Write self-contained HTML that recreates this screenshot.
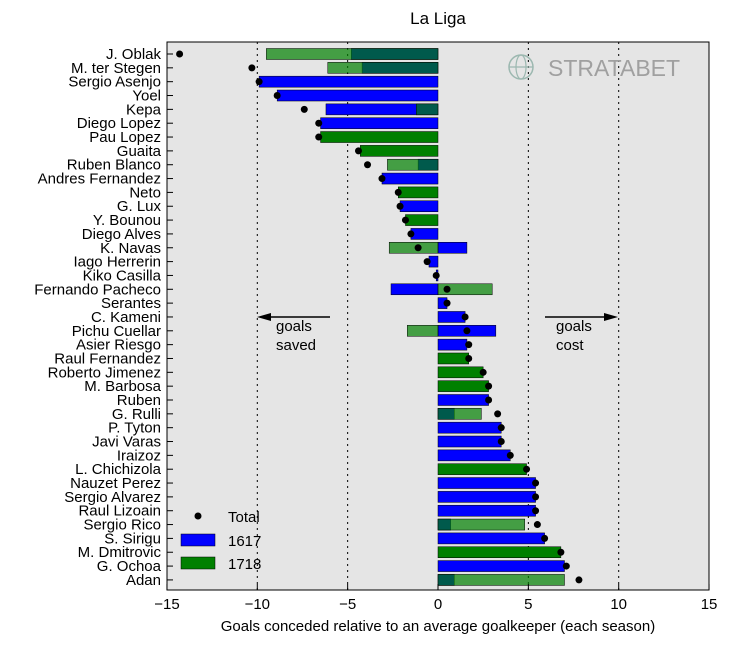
<!DOCTYPE html>
<html><head><meta charset="utf-8"><style>
body{margin:0;background:#fff;font-family:"Liberation Sans","DejaVu Sans",sans-serif}
svg text{font-family:"Liberation Sans","DejaVu Sans",sans-serif}
</style></head><body>
<svg id="c" width="730" height="645" viewBox="0 0 730 645">
<text x="438" y="24" text-anchor="middle" font-size="17">La Liga</text>
<rect x="167" y="42" width="542" height="548" fill="#e5e5e5"/>
<g id="grid"></g><g id="bars"></g><g id="dots"></g><g id="labels"></g><g id="ticks"></g>
<g>
<circle cx="521" cy="67" r="12" fill="none" stroke="#9cb8b0" stroke-width="1.5"/>
<ellipse cx="521" cy="67" rx="5" ry="12" fill="none" stroke="#9cb8b0" stroke-width="1.2"/>
<line x1="509" y1="67" x2="533" y2="67" stroke="#9cb8b0" stroke-width="1.2"/>
<text x="548" y="76" font-size="23" fill="#a0a0a0">STRATABET</text></g>
<g>
<line x1="330" y1="317" x2="268" y2="317" stroke="#000" stroke-width="1.5"/>
<polygon points="257,317 271,313 271,321" fill="#000"/>
<text x="276" y="331" font-size="15">goals</text><text x="276" y="350" font-size="15">saved</text></g>
<g>
<line x1="545" y1="317" x2="607" y2="317" stroke="#000" stroke-width="1.5"/>
<polygon points="618,317 604,313 604,321" fill="#000"/>
<text x="556" y="331" font-size="15">goals</text><text x="556" y="350" font-size="15">cost</text></g>
<g>
<circle cx="198" cy="516" r="3.5" fill="#000"/>
<text x="228" y="522" font-size="15">Total</text>
<rect x="181" y="534" width="34" height="12" fill="#0000ff" stroke="#000" stroke-width="0.5"/>
<text x="228" y="546" font-size="15">1617</text>
<rect x="181" y="557" width="34" height="12" fill="#008000" stroke="#000" stroke-width="0.5"/>
<text x="228" y="569" font-size="15">1718</text></g>
<rect x="167" y="42" width="542" height="548" fill="none" stroke="#000" stroke-width="1"/>
<text x="438" y="631" text-anchor="middle" font-size="15">Goals conceded relative to an average goalkeeper (each season)</text>
</svg>
<script>
const players=["J. Oblak","M. ter Stegen","Sergio Asenjo","Yoel","Kepa","Diego Lopez","Pau Lopez","Guaita","Ruben Blanco","Andres Fernandez","Neto","G. Lux","Y. Bounou","Diego Alves","K. Navas","Iago Herrerin","Kiko Casilla","Fernando Pacheco","Serantes","C. Kameni","Pichu Cuellar","Asier Riesgo","Raul Fernandez","Roberto Jimenez","M. Barbosa","Ruben","G. Rulli","P. Tyton","Javi Varas","Iraizoz","L. Chichizola","Nauzet Perez","Sergio Alvarez","Raul Lizoain","Sergio Rico","S. Sirigu","M. Dmitrovic","G. Ochoa","Adan"];
const s1617=[-4.8,-4.2,-9.9,-8.9,-6.2,-6.5,null,null,-1.1,-3.1,null,-2.1,null,-1.5,1.6,-0.5,-0.1,-2.6,0.5,1.5,3.2,1.6,null,null,null,2.8,0.9,3.5,3.5,4.0,null,5.4,5.4,5.4,0.7,5.9,null,7.0,0.9];
const s1718=[-9.5,-6.1,null,null,-1.2,null,-6.5,-4.3,-2.8,null,-2.2,null,-1.8,null,-2.7,null,null,3.0,null,null,-1.7,null,1.7,2.5,2.8,null,2.4,null,null,null,4.9,null,null,null,4.8,null,6.8,null,7.0];
const totals=[-14.3,-10.3,-9.9,-8.9,-7.4,-6.6,-6.6,-4.4,-3.9,-3.1,-2.2,-2.1,-1.8,-1.5,-1.1,-0.6,-0.1,0.5,0.5,1.5,1.6,1.7,1.7,2.5,2.8,2.8,3.3,3.5,3.5,4.0,4.9,5.4,5.4,5.4,5.5,5.9,6.8,7.1,7.8];
const xticks=[-15,-10,-5,0,5,10,15];
const refLines=[-10,-5,5,10];
const NS="http://www.w3.org/2000/svg";
const X=v=>438+v*18.07, Y=i=>54+i*13.84;
function mk(p,t,a){const e=document.createElementNS(NS,t);for(const k in a)e.setAttribute(k,a[k]);document.getElementById(p).appendChild(e);return e;}
refLines.forEach(v=>{const l=mk('grid','line',{x1:X(v),x2:X(v),y1:42,y2:590,stroke:'#000','stroke-dasharray':'2,4','stroke-width':1});

});
function bar(i,v,fill,op,name){const x0=Math.min(X(0),X(v)),w=Math.abs(X(v)-X(0));
const r=mk('bars','rect',{x:x0,y:Y(i)-5.5,width:w,height:11,fill:fill,'fill-opacity':op,stroke:'#000','stroke-width':0.5});

}
players.forEach((p,i)=>{const b=s1617[i],g=s1718[i],both=b!==null&&g!==null;
if(b!==null)bar(i,b,'#0000ff',1,'bar-1617');
if(g!==null)bar(i,g,'#008000',both?0.7:1,'bar-1718');
const d=mk('dots','circle',{cx:X(totals[i]),cy:Y(i),r:3.5,fill:'#000'});


const t=mk('labels','text',{x:161,y:Y(i)+5,'text-anchor':'end','font-size':15});t.textContent=p;


mk('ticks','line',{x1:167,x2:173,y1:Y(i),y2:Y(i),stroke:'#000'});});
xticks.forEach(v=>{mk('ticks','line',{x1:X(v),x2:X(v),y1:590,y2:584,stroke:'#000'});
const t=mk('ticks','text',{x:X(v),y:609,'text-anchor':'middle','font-size':15});t.textContent=v<0?'\u2212'+(-v):v;

});
</script>
</body></html>
